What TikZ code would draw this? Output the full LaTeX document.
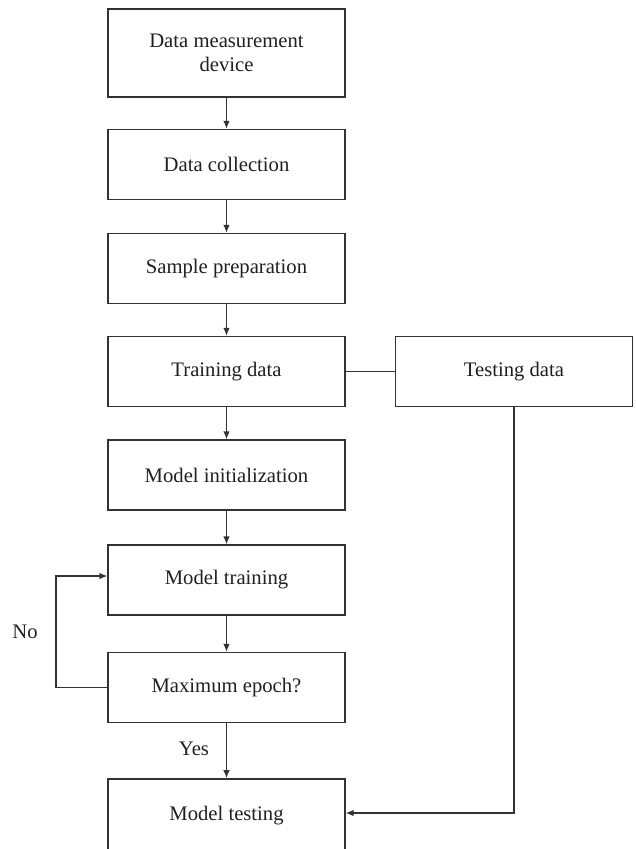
\documentclass[tikz,border=0pt]{standalone}
\usepackage{fontspec}
\setmainfont{Liberation Serif}
\usetikzlibrary{arrows.meta}
\definecolor{linegray}{RGB}{51,51,51}
\definecolor{textgray}{RGB}{35,31,32}

\begin{document}
\begin{tikzpicture}[x=0.75pt,y=0.75pt,yscale=-1,xscale=1,
  box/.style={draw=linegray,line width=1pt,fill=white,minimum width=177.75pt,minimum height=52.5pt,align=center,inner sep=0pt,text=textgray,font=\fontsize{15.5}{18}\selectfont},
  flow/.style={draw=linegray,line width=1pt,-{Latex[length=6pt,width=5pt]}},
  link/.style={draw=linegray,line width=1pt},
  lbl/.style={text=textgray,font=\fontsize{15.5}{18}\selectfont}]
\useasboundingbox (0,0) rectangle (635,849);

%Shape: Rectangle
\node[box,minimum height=66pt] (dmd) at (226.5,53) {Data measurement\\device};
%Shape: Rectangle
\node[box] (dc) at (226.5,164.5) {Data collection};
%Shape: Rectangle
\node[box] (sp) at (226.5,268.5) {Sample preparation};
%Shape: Rectangle
\node[box] (trd) at (226.5,371.5) {Training data};
%Shape: Rectangle
\node[box] (tsd) at (514,371.5) {Testing data};
%Shape: Rectangle
\node[box] (mi) at (226.5,475) {Model initialization};
%Shape: Rectangle
\node[box] (mt) at (226.5,580) {Model training};
%Shape: Rectangle
\node[box] (me) at (226.5,687.5) {Maximum epoch?};
%Shape: Rectangle (cut by the page edge)
\node[box,minimum height=55pt] (mtest) at (226.5,815.5) {Model testing};

%Straight Lines
\draw[flow] (dmd) -- (dc);
\draw[flow] (dc) -- (sp);
\draw[flow] (sp) -- (trd);
\draw[link] (trd) -- (tsd);
\draw[flow] (trd) -- (mi);
\draw[flow] (mi) -- (mt);
\draw[flow] (mt) -- (me);
\draw[flow] (me) -- (mtest);

%Feedback loop
\coordinate (loop) at (56,576);
\draw[flow] (me.west) -| (loop) -- (loop -| mt.west);
%Testing path
\coordinate (turn) at (514,813);
\draw[flow] (tsd.south) -- (turn) -- (turn -| mtest.east);

% Text Node
\node[lbl] (no) at (25,632) {No};
% Text Node
\node[lbl] (yes) at (194,749) {Yes};

\end{tikzpicture}
\end{document}
